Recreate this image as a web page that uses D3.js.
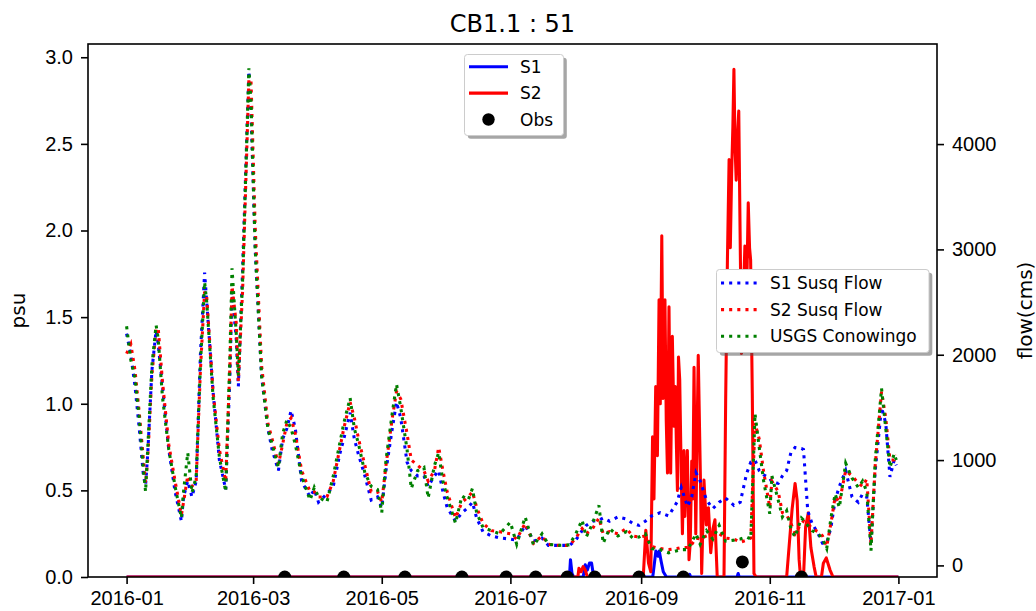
<!DOCTYPE html>
<html>
<head>
<meta charset="utf-8">
<script src="https://cdn.jsdelivr.net/npm/d3@7"></script>
<style>
  body { margin: 0; background: #fff; }
  svg { display: block; font-family: 'DejaVu Sans', sans-serif; }
</style>
</head>
<body>
<div id="chart"></div>
<script>
// Daily flow readings (cms)
var flowDates = [
  '2016-01-01', '2016-01-03', '2016-01-05', '2016-01-07', '2016-01-09', '2016-01-10', '2016-01-11', '2016-01-13',
  '2016-01-15', '2016-01-16', '2016-01-18', '2016-01-21', '2016-01-24', '2016-01-27', '2016-01-28', '2016-01-30',
  '2016-02-01', '2016-02-03', '2016-02-05', '2016-02-07', '2016-02-08', '2016-02-11', '2016-02-14', '2016-02-17',
  '2016-02-19', '2016-02-20', '2016-02-22', '2016-02-23', '2016-02-25', '2016-02-28', '2016-02-29',
  '2016-03-02', '2016-03-05', '2016-03-08', '2016-03-10', '2016-03-13', '2016-03-15', '2016-03-17', '2016-03-19',
  '2016-03-21', '2016-03-24', '2016-03-28', '2016-03-30',
  '2016-04-01', '2016-04-05', '2016-04-08', '2016-04-11', '2016-04-13', '2016-04-16', '2016-04-18', '2016-04-20',
  '2016-04-23', '2016-04-26', '2016-04-29',
  '2016-05-01', '2016-05-03', '2016-05-06', '2016-05-08', '2016-05-10', '2016-05-13', '2016-05-15', '2016-05-18',
  '2016-05-21', '2016-05-23', '2016-05-26', '2016-05-28', '2016-05-30',
  '2016-06-01', '2016-06-05', '2016-06-08', '2016-06-11', '2016-06-13', '2016-06-15', '2016-06-18', '2016-06-22',
  '2016-06-26',
  '2016-07-01', '2016-07-04', '2016-07-08', '2016-07-12', '2016-07-16', '2016-07-19', '2016-07-24', '2016-07-29',
  '2016-08-01', '2016-08-04', '2016-08-06', '2016-08-09', '2016-08-12', '2016-08-14', '2016-08-17', '2016-08-21',
  '2016-08-25', '2016-08-28', '2016-08-31',
  '2016-09-03', '2016-09-06', '2016-09-10', '2016-09-14', '2016-09-18', '2016-09-20', '2016-09-23', '2016-09-25',
  '2016-09-27', '2016-09-29',
  '2016-10-02', '2016-10-05', '2016-10-08', '2016-10-11', '2016-10-15', '2016-10-18', '2016-10-21', '2016-10-23',
  '2016-10-25', '2016-10-27', '2016-10-29',
  '2016-11-01', '2016-11-02', '2016-11-05', '2016-11-07', '2016-11-09', '2016-11-11', '2016-11-13', '2016-11-16',
  '2016-11-17', '2016-11-19', '2016-11-21', '2016-11-24', '2016-11-26', '2016-11-28', '2016-11-30',
  '2016-12-02', '2016-12-04', '2016-12-07', '2016-12-10', '2016-12-13', '2016-12-15', '2016-12-17', '2016-12-19',
  '2016-12-21', '2016-12-24', '2016-12-26', '2016-12-28', '2016-12-30', '2016-12-31'
];

var s1FlowValues = [
  2200, 2000, 1700, 1300, 850, 760, 1050, 1850, 2230, 2100, 1700, 1100, 700, 420, 650, 800,
  650, 800, 2000, 2780, 2500, 1650, 1000, 720, 1800, 2600, 2150, 1700, 2800, 4690, 4300,
  3000, 1800, 1300, 1100, 900, 1200, 1300, 1470, 1300, 800, 650, 720,
  600, 680, 750, 1050, 1200, 1450, 1200, 1050, 850, 620, 650,
  550, 900, 1300, 1550, 1400, 980, 900, 850, 850, 750, 850, 900, 700,
  550, 420, 500, 550, 600, 450, 320, 280, 260,
  250, 240, 380, 230, 260, 190, 190, 190,
  240, 330, 380, 420, 430, 450, 420, 460, 440, 400, 380,
  420, 470, 500, 470, 600, 740, 560, 650, 880, 800,
  620, 540, 600, 640, 570, 600, 870, 980, 1000, 900, 860,
  830, 790, 780, 850, 900, 1070, 1120, 1110, 1100, 520, 400, 300, 210, 210, 360,
  620, 750, 900, 650, 600, 680, 650, 210, 900, 1500, 1350, 840, 1000, 950
];

var s2FlowValues = [
  2010, 2100, 1850, 1450, 1000, 780, 1000, 1800, 2250, 2250, 1750, 1150, 800, 480, 600, 850,
  750, 800, 1850, 2600, 2550, 1650, 1100, 800, 1900, 2650, 2300, 1750, 2600, 4620, 4600,
  3200, 1900, 1350, 1200, 960, 1150, 1350, 1400, 1250, 900, 700, 700,
  650, 650, 800, 1100, 1300, 1550, 1400, 1200, 950, 700, 700,
  600, 950, 1400, 1650, 1580, 1250, 1000, 950, 900, 800, 900, 1120, 900,
  700, 450, 600, 650, 700, 550, 400, 330, 320,
  300, 250, 400, 210, 280, 200, 190, 190,
  260, 350, 300, 350, 450, 300, 320, 300, 350, 280, 270,
  280, 180, 160, 150, 160, 170, 170, 200, 260, 250,
  280, 300, 300, 260, 250, 220, 240, 260, 1350, 1200, 900,
  550, 800, 700, 500, 480, 400, 300, 400, 420, 400, 350, 320, 280, 180, 400,
  650, 600, 900, 850, 780, 750, 820, 200, 950, 1650, 1400, 1000, 1000, 1050
];

var usgsFlowValues = [
  2270, 1950, 1780, 1400, 900, 700, 1100, 1900, 2280, 2150, 1600, 1100, 750, 450, 700, 1070,
  690, 840, 1900, 2690, 2500, 1600, 1030, 700, 2000, 2820, 2200, 1800, 2700, 4720, 4400,
  3000, 1800, 1300, 1150, 930, 1250, 1380, 1300, 1150, 850, 620, 740,
  650, 600, 850, 1150, 1350, 1590, 1300, 1150, 880, 750, 720,
  500, 1000, 1450, 1720, 1500, 1100, 730, 900, 930, 640, 950, 1070, 800,
  650, 400, 660, 620, 730, 500, 360, 330, 300,
  410, 200, 460, 190, 300, 200, 190, 195,
  300, 430, 270, 400, 570, 210, 350, 280, 320, 260, 270,
  300, 160, 150, 120, 140, 150, 150, 220, 300, 200,
  330, 250, 380, 230, 240, 250, 270, 250, 1440, 1120, 810,
  490, 850, 620, 460, 520, 350, 270, 450, 430, 380, 330, 300, 250, 160, 450,
  680, 550, 970, 830, 740, 800, 700, 140, 1000, 1680, 1300, 930, 1060, 1000
];

// Modelled salinity (psu)
var s1PsuDates = [
  '2016-01-01 00:00', '2016-07-29 00:00', '2016-07-29 12:00', '2016-07-30 05:00', '2016-07-31 00:00',
  '2016-08-04 12:00', '2016-08-05 12:00', '2016-08-06 12:00', '2016-08-07 12:00', '2016-08-08 12:00',
  '2016-08-09 12:00', '2016-09-06 12:00', '2016-09-07 12:00', '2016-09-08 00:00', '2016-09-09 00:00',
  '2016-09-09 14:00', '2016-09-10 12:00', '2016-09-11 12:00', '2016-09-13 00:00', '2016-09-23 12:00',
  '2016-09-24 00:00', '2016-09-24 12:00', '2016-10-16 12:00', '2016-10-17 00:00', '2016-10-17 12:00',
  '2017-01-01 00:00'
];
var s1PsuValues = [
  0, 0, 0.10, 0.02, 0,
  0, 0.07, 0.04, 0.08, 0.08,
  0, 0, 0.10, 0.15, 0.12,
  0.15, 0.09, 0.03, 0, 0,
  0.015, 0, 0, 0.02, 0,
  0
];

var s2PsuDates = [
  '2016-01-01 00:00', '2016-08-02 00:00', '2016-08-02 12:00', '2016-08-03 12:00', '2016-08-04 12:00',
  '2016-08-05 12:00', '2016-08-06 12:00', '2016-09-02 00:00', '2016-09-03 05:00', '2016-09-04 12:00',
  '2016-09-05 14:00', '2016-09-06 10:00', '2016-09-07 02:00', '2016-09-07 22:00', '2016-09-08 17:00',
  '2016-09-09 12:00', '2016-09-10 02:00', '2016-09-10 19:00', '2016-09-11 10:00', '2016-09-12 07:00',
  '2016-09-12 22:00', '2016-09-13 12:00', '2016-09-14 05:00', '2016-09-15 00:00', '2016-09-15 19:00',
  '2016-09-16 14:00', '2016-09-17 05:00', '2016-09-17 17:00', '2016-09-18 05:00', '2016-09-18 17:00',
  '2016-09-19 07:00', '2016-09-20 00:00', '2016-09-20 14:00', '2016-09-21 07:00', '2016-09-21 17:00',
  '2016-09-22 02:00', '2016-09-22 22:00', '2016-09-23 17:00', '2016-09-24 07:00', '2016-09-25 00:00',
  '2016-09-25 12:00', '2016-09-26 02:00', '2016-09-26 22:00', '2016-09-27 12:00', '2016-09-28 02:00',
  '2016-09-29 05:00', '2016-09-29 17:00', '2016-09-30 19:00', '2016-10-01 22:00', '2016-10-02 22:00',
  '2016-10-04 00:00', '2016-10-05 02:00', '2016-10-06 00:00', '2016-10-07 02:00', '2016-10-10 07:00',
  '2016-10-11 02:00', '2016-10-11 22:00', '2016-10-12 17:00', '2016-10-13 07:00', '2016-10-13 22:00',
  '2016-10-14 12:00', '2016-10-15 00:00', '2016-10-15 12:00', '2016-10-16 02:00', '2016-10-16 17:00',
  '2016-10-17 07:00', '2016-10-17 22:00', '2016-10-18 14:00', '2016-10-19 10:00', '2016-10-20 05:00',
  '2016-10-21 00:00', '2016-10-21 19:00', '2016-10-22 10:00', '2016-10-22 22:00', '2016-10-23 17:00',
  '2016-10-24 12:00', '2016-10-25 12:00', '2016-11-09 00:00', '2016-11-11 14:00', '2016-11-13 00:00',
  '2016-11-14 00:00', '2016-11-14 22:00', '2016-11-15 14:00', '2016-11-17 00:00', '2016-11-18 00:00',
  '2016-11-19 07:00', '2016-11-20 12:00', '2016-11-22 00:00', '2016-11-23 00:00', '2016-11-25 12:00',
  '2016-11-26 10:00', '2016-11-27 19:00', '2016-11-29 14:00', '2016-12-01 00:00', '2017-01-01 00:00'
];
var s2PsuValues = [
  0, 0, 0.05, 0.03, 0.06,
  0.04, 0, 0, 0.27, 0.08,
  0.03, 0.81, 0.45, 1.10, 0.70,
  1.60, 1.00, 1.97, 1.03, 1.60,
  0.90, 0.60, 1.56, 0.60, 1.39,
  0.87, 1.10, 0.77, 0.50, 1.27,
  1.14, 0.60, 0.25, 0.73, 0.35,
  0.48, 0.73, 0.10, 0.20, 0.67,
  0.45, 1.21, 0.25, 0.80, 1.28,
  0.50, 0.02, 0.56, 0.30, 0.40,
  0.14, 0.28, 0.33, 0, 0,
  1.02, 1.83, 2.41, 1.90, 2.33,
  2.60, 2.93, 2.50, 2.29, 2.55,
  2.69, 2.00, 1.29, 1.60, 1.91,
  1.60, 2.16, 1.90, 1.83, 1.06,
  0.02, 0, 0, 0.39, 0.54,
  0.44, 0.10, 0, 0, 0.29,
  0.37, 0.17, 0.06, 0, 0,
  0.08, 0.11, 0.04, 0, 0
];

// Observed salinity (psu)
var obsDates = [
  '2016-03-16', '2016-04-13', '2016-05-12', '2016-06-08', '2016-06-29', '2016-07-13',
  '2016-07-28', '2016-08-10', '2016-08-31', '2016-09-21', '2016-10-19', '2016-11-16'
];
var obsValues = [0, 0, 0, 0, 0, 0, 0, 0, 0, 0, 0.087, 0];

var psuTicks = [0, 0.5, 1.0, 1.5, 2.0, 2.5, 3.0];
var flowTicks = [0, 1000, 2000, 3000, 4000];

var chartTitle = 'CB1.1 : 51';

var width = 1036, height = 611;
var plot = { left: 88, right: 937, top: 44, bottom: 577 };
var lw = 3.07;

var parseDay = d3.timeParse('%Y-%m-%d');
var parseHour = d3.timeParse('%Y-%m-%d %H:%M');

function zipSeries(dates, values, parse) {
  return dates.map((d, i) => ({ date: parse(d), value: values[i] }));
}

var s1Psu = zipSeries(s1PsuDates, s1PsuValues, parseHour);
var s2Psu = zipSeries(s2PsuDates, s2PsuValues, parseHour);
var obs = zipSeries(obsDates, obsValues, parseDay);
var s1Flow = zipSeries(flowDates, s1FlowValues, parseDay);
var s2Flow = zipSeries(flowDates, s2FlowValues, parseDay);
var usgsFlow = zipSeries(flowDates, usgsFlowValues, parseDay);

// Scales, with the 5% margins matplotlib adds
var allPoints = [].concat(s1Psu, s2Psu, obs, s1Flow, s2Flow, usgsFlow);
var dateExtent = d3.extent(allPoints, (d) => d.date);
var datePad = (dateExtent[1] - dateExtent[0]) * 0.05;
var x = d3
  .scaleTime()
  .domain([new Date(+dateExtent[0] - datePad), new Date(+dateExtent[1] + datePad)])
  .range([plot.left, plot.right]);

var psuMax = d3.max([].concat(s1Psu, s2Psu, obs), (d) => d.value);
var yPsu = d3.scaleLinear().domain([0, psuMax * 1.05]).range([plot.bottom, plot.top]);

var flowExtent = d3.extent([].concat(s1Flow, s2Flow, usgsFlow), (d) => d.value);
var flowPad = (flowExtent[1] - flowExtent[0]) * 0.05;
var yFlow = d3
  .scaleLinear()
  .domain([flowExtent[0] - flowPad, flowExtent[1] + flowPad])
  .range([plot.bottom, plot.top]);

var svg = d3.select('#chart').append('svg').attr('width', width).attr('height', height);

svg
  .append('clipPath')
  .attr('id', 'plot-clip')
  .append('rect')
  .attr('x', plot.left)
  .attr('y', plot.top)
  .attr('width', plot.right - plot.left)
  .attr('height', plot.bottom - plot.top);

var plotArea = svg.append('g').attr('clip-path', 'url(#plot-clip)');

var psuLine = d3
  .line()
  .x((d) => x(d.date))
  .y((d) => yPsu(d.value));
var flowLine = d3
  .line()
  .x((d) => x(d.date))
  .y((d) => yFlow(d.value));

// Left axes: salinity
plotArea
  .append('path')
  .datum(s1Psu)
  .attr('d', psuLine)
  .attr('fill', 'none')
  .attr('stroke', '#0000ff')
  .attr('stroke-width', lw)
  .attr('stroke-linejoin', 'round');

plotArea
  .append('path')
  .datum(s2Psu)
  .attr('d', psuLine)
  .attr('fill', 'none')
  .attr('stroke', '#ff0000')
  .attr('stroke-width', lw)
  .attr('stroke-linejoin', 'round');

plotArea
  .append('g')
  .selectAll('circle')
  .data(obs)
  .join('circle')
  .attr('cx', (d) => x(d.date))
  .attr('cy', (d) => yPsu(d.value))
  .attr('r', 6.5)
  .attr('fill', '#000');

// Twin axes: flows, drawn on top
var flowSeries = [
  { data: s1Flow, color: '#0000ff' },
  { data: s2Flow, color: '#ff0000' },
  { data: usgsFlow, color: '#008000' },
];
flowSeries.forEach((s) => {
  plotArea
    .append('path')
    .datum(s.data)
    .attr('d', flowLine)
    .attr('fill', 'none')
    .attr('stroke', s.color)
    .attr('stroke-width', lw)
    .attr('stroke-dasharray', '3.07 5.07')
    .attr('stroke-linecap', 'butt');
});

// Axes
function styleAxis(g) {
  g.select('.domain').remove();
  g.selectAll('.tick line').attr('stroke', '#000').attr('stroke-width', 1.6);
  g.selectAll('.tick text').attr('fill', '#000').attr('font-size', 20).attr('font-family', null);
}

svg
  .append('g')
  .attr('transform', `translate(0,${plot.bottom})`)
  .call(
    d3
      .axisBottom(x)
      .ticks(d3.timeMonth.every(2))
      .tickFormat(d3.timeFormat('%Y-%m'))
      .tickSize(7)
      .tickSizeOuter(0)
      .tickPadding(7)
  )
  .call(styleAxis);

svg
  .append('g')
  .attr('transform', `translate(${plot.left},0)`)
  .call(
    d3
      .axisLeft(yPsu)
      .tickValues(psuTicks)
      .tickFormat(d3.format('.1f'))
      .tickSize(7)
      .tickSizeOuter(0)
      .tickPadding(8)
  )
  .call(styleAxis);

svg
  .append('g')
  .attr('transform', `translate(${plot.right},0)`)
  .call(
    d3
      .axisRight(yFlow)
      .tickValues(flowTicks)
      .tickFormat(d3.format('d'))
      .tickSize(7)
      .tickSizeOuter(0)
      .tickPadding(8)
  )
  .call(styleAxis);

svg
  .append('rect')
  .attr('x', plot.left)
  .attr('y', plot.top)
  .attr('width', plot.right - plot.left)
  .attr('height', plot.bottom - plot.top)
  .attr('fill', 'none')
  .attr('stroke', '#000')
  .attr('stroke-width', 1.6);

// Titles
svg
  .append('text')
  .attr('x', (plot.left + plot.right) / 2)
  .attr('y', 32)
  .attr('text-anchor', 'middle')
  .attr('font-size', 24)
  .attr('fill', '#000')
  .text(chartTitle);

svg
  .append('text')
  .attr('transform', `translate(25,${(plot.top + plot.bottom) / 2}) rotate(-90)`)
  .attr('text-anchor', 'middle')
  .attr('font-size', 20)
  .attr('fill', '#000')
  .text('psu');

svg
  .append('text')
  .attr('transform', `translate(1032,${(plot.top + plot.bottom) / 2}) rotate(-90)`)
  .attr('text-anchor', 'middle')
  .attr('font-size', 20)
  .attr('fill', '#000')
  .text('flow(cms)');

// Legends with shadow
function drawLegend(box, items) {
  var g = svg.append('g');
  g.append('rect')
    .attr('x', box.x + 3.3)
    .attr('y', box.y + 3.3)
    .attr('width', box.w)
    .attr('height', box.h)
    .attr('rx', 3)
    .attr('fill', '#4d4d4d')
    .attr('opacity', 0.5);
  g.append('rect')
    .attr('x', box.x)
    .attr('y', box.y)
    .attr('width', box.w)
    .attr('height', box.h)
    .attr('rx', 3)
    .attr('fill', '#fff')
    .attr('stroke', '#cccccc')
    .attr('stroke-width', 1);

  items.forEach((item, i) => {
    var rowY = box.firstRow + i * box.rowStep;
    if (item.type === 'dot') {
      g.append('circle')
        .attr('cx', (box.handleX1 + box.handleX2) / 2)
        .attr('cy', rowY)
        .attr('r', 6.2)
        .attr('fill', item.color);
    } else {
      g.append('line')
        .attr('x1', box.handleX1)
        .attr('x2', box.handleX2)
        .attr('y1', rowY)
        .attr('y2', rowY)
        .attr('stroke', item.color)
        .attr('stroke-width', lw)
        .attr('stroke-dasharray', item.dotted ? '3.07 5.07' : null);
    }
    g.append('text')
      .attr('x', box.textX)
      .attr('y', rowY + 6)
      .attr('font-size', 17)
      .attr('fill', '#000')
      .text(item.label);
  });
}

drawLegend(
  { x: 464.5, y: 54.5, w: 99, h: 81, firstRow: 66.7, rowStep: 26.4, handleX1: 469, handleX2: 508, textX: 520 },
  [
    { label: 'S1', color: '#0000ff' },
    { label: 'S2', color: '#ff0000' },
    { label: 'Obs', color: '#000', type: 'dot' },
  ]
);

drawLegend(
  { x: 716.5, y: 269.5, w: 212.5, h: 83, firstRow: 283, rowStep: 26.6, handleX1: 721, handleX2: 757, textX: 770 },
  [
    { label: 'S1 Susq Flow', color: '#0000ff', dotted: true },
    { label: 'S2 Susq Flow', color: '#ff0000', dotted: true },
    { label: 'USGS Conowingo', color: '#008000', dotted: true },
  ]
);
</script>
</body>
</html>
